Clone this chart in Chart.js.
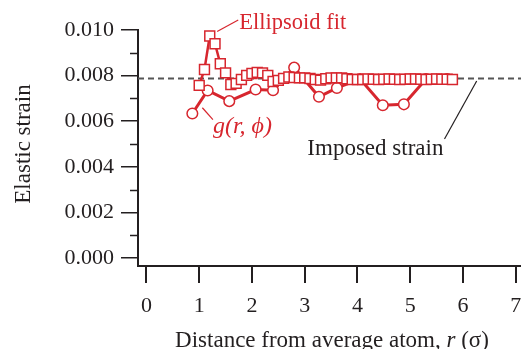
<!DOCTYPE html>
<html>
<head>
<meta charset="utf-8">
<script src="https://cdn.jsdelivr.net/npm/chart.js@4.4.1/dist/chart.umd.min.js"></script>
<style>
  html, body { margin: 0; padding: 0; background: #fff; }
  #wrap { width: 521px; height: 349px; }
</style>
</head>
<body>
<div id="wrap"><canvas id="strain-chart" width="521" height="349"></canvas></div>
<script>
// ellipsoid fit (squares)
const fitR = [
  1.0, 1.1, 1.2, 1.3, 1.4, 1.5, 1.6, 1.7, 1.8, 1.9,
  2.0, 2.1, 2.2, 2.3, 2.4, 2.5, 2.6, 2.7, 2.8, 2.9,
  3.0, 3.1, 3.2, 3.3, 3.4, 3.5, 3.6, 3.7, 3.8, 3.9,
  4.0, 4.1, 4.2, 4.3, 4.4, 4.5, 4.6, 4.7, 4.8, 4.9,
  5.0, 5.1, 5.2, 5.3, 5.4, 5.5, 5.6, 5.7, 5.8,
];
const fitStrain = [
  0.00757, 0.00827, 0.00974, 0.0094, 0.00852, 0.00812, 0.00761, 0.00766, 0.00783, 0.00801,
  0.00809, 0.00814, 0.00812, 0.00801, 0.00774, 0.00779, 0.00788, 0.00794, 0.00792, 0.0079,
  0.0079, 0.00787, 0.00783, 0.0078, 0.00786, 0.0079, 0.0079, 0.0079, 0.00786, 0.00783,
  0.00783, 0.00783, 0.00785, 0.00784, 0.00783, 0.00784, 0.00785, 0.00784, 0.00783, 0.00784,
  0.00785, 0.00785, 0.00784, 0.00783, 0.00784, 0.00785, 0.00784, 0.00784, 0.00783,
];

// g(r, phi) (circles)
const gR = [0.87, 1.16, 1.57, 2.07, 2.4, 2.8, 3.27, 3.61, 4.05, 4.48, 4.88, 5.3, 5.7];
const gStrain = [
  0.00634, 0.00735, 0.00688, 0.00739, 0.00736, 0.00835, 0.00707,
  0.00746, 0.00785, 0.0067, 0.00674, 0.00785, 0.00785,
];

const imposedStrain = 0.00787;
const xRange = [-0.16, 7.1];
const yRange = [-0.00035, 0.01];
const xTicks = [0, 1, 2, 3, 4, 5, 6, 7];
const yMajorTicks = [0, 0.002, 0.004, 0.006, 0.008, 0.01];

const red = "#d7262e";
const ink = "#231f20";
const serif = "'Liberation Serif', 'DejaVu Serif', serif";

// labels + leader lines, placed in data units
const notes = [
  { text: "Ellipsoid fit", x: 1.76, y: 0.0103, color: red, italic: false, size: 22.5,
    line: [1.34, 0.00993, 1.74, 0.01044] },
  { text: "g(r, \u03d5)", x: 1.26, y: 0.00575, color: red, italic: true, size: 24,
    line: [1.06, 0.00659, 1.26, 0.00607] },
  { text: "Imposed strain", x: 3.05, y: 0.0048, color: ink, italic: false, size: 23,
    line: [5.65, 0.00522, 6.26, 0.00776] },
];

function pairs(xs, ys) {
  return xs.map((x, i) => ({ x: x, y: ys[i] }));
}

const extrasPlugin = {
  id: "extras",
  afterDraw(chart) {
    const ctx = chart.ctx;
    const xs = chart.scales.x;
    const ys = chart.scales.y;
    ctx.save();

    // minor ticks on the strain axis
    ctx.strokeStyle = ink;
    ctx.lineWidth = 1.5;
    for (let v = 0.001; v < 0.0100001; v += 0.002) {
      const py = Math.round(ys.getPixelForValue(v)) + 0.5;
      ctx.beginPath();
      ctx.moveTo(chart.chartArea.left - 8, py);
      ctx.lineTo(chart.chartArea.left, py);
      ctx.stroke();
    }

    // annotations
    ctx.textBaseline = "middle";
    ctx.textAlign = "left";
    for (const n of notes) {
      ctx.strokeStyle = n.color;
      ctx.lineWidth = 1.2;
      ctx.beginPath();
      ctx.moveTo(xs.getPixelForValue(n.line[0]), ys.getPixelForValue(n.line[1]));
      ctx.lineTo(xs.getPixelForValue(n.line[2]), ys.getPixelForValue(n.line[3]));
      ctx.stroke();
      ctx.fillStyle = n.color;
      ctx.font = (n.italic ? "italic " : "") + n.size + "px " + serif;
      ctx.fillText(n.text, xs.getPixelForValue(n.x), ys.getPixelForValue(n.y));
    }

    // axis titles
    ctx.fillStyle = ink;
    ctx.textBaseline = "alphabetic";
    const parts = [
      ["Distance from average atom, ", ""],
      ["r", "italic "],
      [" (\u03c3)", ""],
    ];
    let total = 0;
    for (const p of parts) {
      ctx.font = p[1] + "23px " + serif;
      total += ctx.measureText(p[0]).width;
    }
    let tx = 332 - total / 2;
    for (const p of parts) {
      ctx.font = p[1] + "23px " + serif;
      ctx.fillText(p[0], tx, 347);
      tx += ctx.measureText(p[0]).width;
    }

    ctx.font = "23px " + serif;
    ctx.translate(30, 144);
    ctx.rotate(-Math.PI / 2);
    ctx.textAlign = "center";
    ctx.fillText("Elastic strain", 0, 0);
    ctx.restore();
  },
};

const ctx = document.getElementById("strain-chart").getContext("2d");
new Chart(ctx, {
  type: "line",
  data: {
    datasets: [
      {
        label: "Ellipsoid fit",
        data: pairs(fitR, fitStrain),
        borderColor: red,
        borderWidth: 2.5,
        pointStyle: "rect",
        pointRadius: 7,
        pointBorderWidth: 1.5,
        pointBackgroundColor: "#fff",
        pointBorderColor: red,
        order: 0,
      },
      {
        label: "g(r, phi)",
        data: pairs(gR, gStrain),
        borderColor: red,
        borderWidth: 3,
        pointStyle: "circle",
        pointRadius: 5.3,
        pointBorderWidth: 1.5,
        pointBackgroundColor: "#fff",
        pointBorderColor: red,
        order: 1,
      },
      {
        label: "Imposed strain",
        data: pairs(xRange, [imposedStrain, imposedStrain]),
        borderColor: "#555",
        borderWidth: 2,
        borderDash: [6, 4],
        pointRadius: 0,
        order: 2,
      },
    ],
  },
  options: {
    responsive: false,
    animation: false,
    layout: { autoPadding: false, padding: { top: 30, right: 0, bottom: 0, left: 0 } },
    plugins: {
      legend: { display: false },
      tooltip: { enabled: false },
    },
    scales: {
      x: {
        type: "linear",
        min: xRange[0],
        max: xRange[1],
        afterFit(scale) {
          scale.height = 83;
          scale.paddingLeft = 0;
          scale.paddingRight = 0;
        },
        afterBuildTicks(scale) { scale.ticks = xTicks.map((v) => ({ value: v })); },
        border: { color: ink, width: 2 },
        grid: { drawOnChartArea: false, tickLength: 17, color: ink, lineWidth: 2 },
        ticks: {
          color: ink,
          padding: 10,
          font: { family: serif, size: 22 },
          maxRotation: 0,
        },
      },
      y: {
        type: "linear",
        min: yRange[0],
        max: yRange[1],
        afterFit(scale) {
          scale.width = 138;
          scale.paddingTop = 0;
          scale.paddingBottom = 0;
        },
        afterBuildTicks(scale) { scale.ticks = yMajorTicks.map((v) => ({ value: v })); },
        border: { color: ink, width: 2 },
        grid: { drawOnChartArea: false, tickLength: 17, color: ink, lineWidth: 1.5 },
        ticks: {
          color: ink,
          padding: 7,
          font: { family: serif, size: 22 },
          callback: (v) => v.toFixed(3),
        },
      },
    },
  },
  plugins: [extrasPlugin],
});
</script>
</body>
</html>
